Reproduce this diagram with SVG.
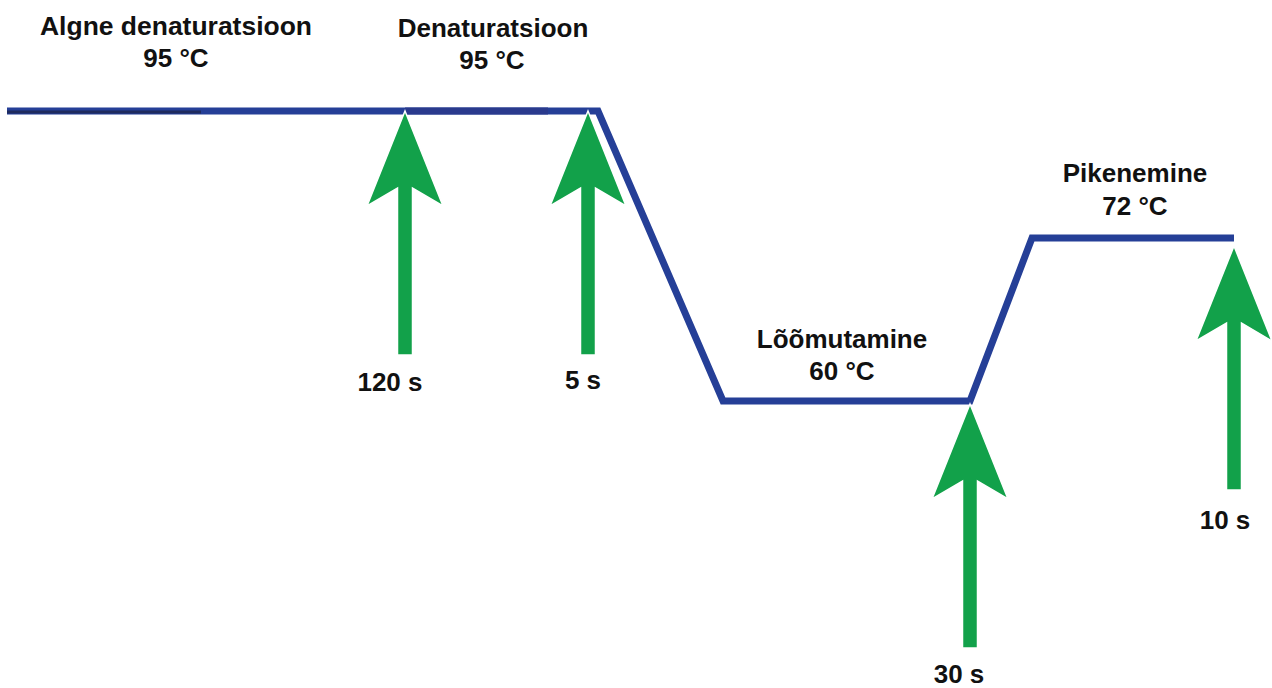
<svg xmlns="http://www.w3.org/2000/svg" width="1272" height="688" viewBox="0 0 1272 688">
<defs>
<style>
.lbl{font-family:"Liberation Sans",Arial,sans-serif;font-weight:bold;font-size:26px;fill:#111;text-anchor:middle}
.curve{fill:none;stroke:#253f97;stroke-width:7;stroke-linejoin:miter}
.arr{fill:#12a14a;stroke:#ffffff;stroke-width:1.5;stroke-linejoin:miter}
</style>
<path id="arrowShape" d="M0,0 L38,95 L7.5,77 L7.5,244 L-7.5,244 L-7.5,77 L-38,95 Z"/>
</defs>
<rect width="1272" height="688" fill="#ffffff"/>
<g id="connectors">
<polyline class="curve" points="7,111 598,111 723,401 970,401 1032,238 1234,238"/>
<line x1="405" y1="111" x2="548" y2="111" stroke="#2a3a8d" stroke-width="7"/>
<line x1="7" y1="112" x2="201" y2="112" stroke="#1f2b5e" stroke-width="3"/>
</g>
<g id="step-initial">
<text class="lbl" x="176" y="35" textLength="272" lengthAdjust="spacingAndGlyphs">Algne denaturatsioon</text>
<text class="lbl" x="176" y="67">95 °C</text>
</g>
<g id="step-denat">
<text class="lbl" x="493" y="37">Denaturatsioon</text>
<text class="lbl" x="492" y="69">95 °C</text>
</g>
<g id="step-anneal">
<text class="lbl" x="842" y="348">Lõõmutamine</text>
<text class="lbl" x="842" y="380">60 °C</text>
</g>
<g id="step-ext">
<text class="lbl" x="1135" y="182">Pikenemine</text>
<text class="lbl" x="1135" y="215">72 °C</text>
</g>
<g id="arrow-120">
<use href="#arrowShape" class="arr" x="405" y="111"/>
<text class="lbl" x="390" y="391">120 s</text>
</g>
<g id="arrow-5">
<use href="#arrowShape" class="arr" x="588" y="111"/>
<text class="lbl" x="583" y="389">5 s</text>
</g>
<g id="arrow-30">
<use href="#arrowShape" class="arr" x="970" y="404"/>
<text class="lbl" x="959" y="683">30 s</text>
</g>
<g id="arrow-10">
<use href="#arrowShape" class="arr" x="1234" y="246"/>
<text class="lbl" x="1225" y="529">10 s</text>
</g>
</svg>
